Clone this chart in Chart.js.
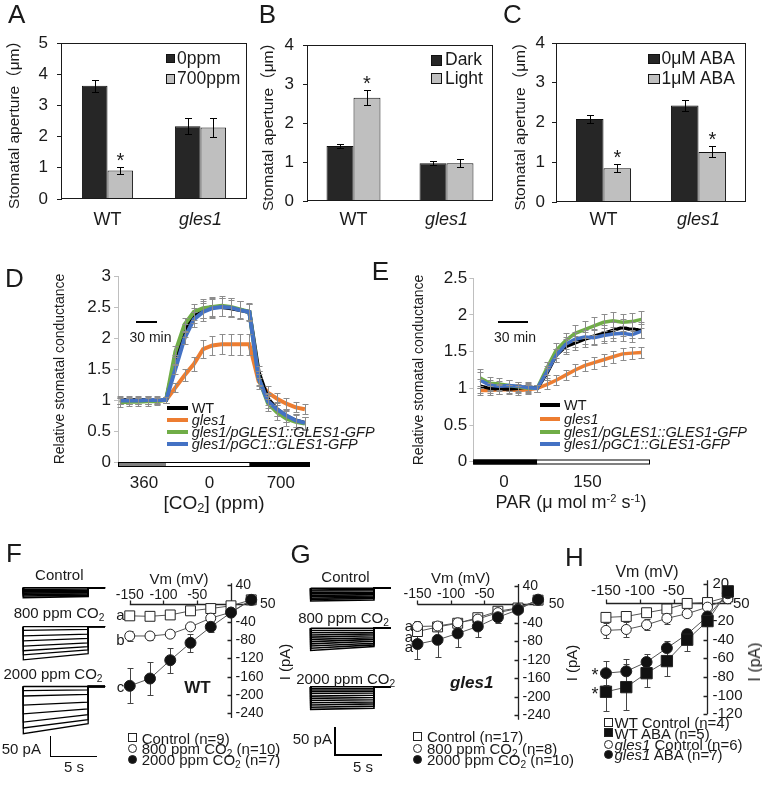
<!DOCTYPE html>
<html><head><meta charset="utf-8">
<script src="https://cdn.jsdelivr.net/npm/chart.js@4.4.1/dist/chart.umd.min.js"></script>
<style>
html,body{margin:0;padding:0;background:#fff}
body{width:762px;height:785px;position:relative;overflow:hidden;font-family:"Liberation Sans",Arial,"Noto Sans CJK SC",sans-serif;color:#1a1a1a}
canvas{position:absolute}
.t{position:absolute;white-space:nowrap;line-height:1}
.t sub{font-size:68%;vertical-align:-0.3em;line-height:0}
.t sup{font-size:62%;vertical-align:0.5em;line-height:0}
.sym{position:absolute;box-sizing:border-box}
</style></head><body>
<script>
const FONT='"Liberation Sans", Arial, "Noto Sans CJK SC", sans-serif';
Chart.defaults.font.family=FONT;
Chart.defaults.color='#1a1a1a';
Chart.defaults.animation=false;
Chart.defaults.responsive=false;
Chart.defaults.maintainAspectRatio=false;
Chart.defaults.devicePixelRatio=1;
Chart.defaults.plugins.legend.display=false;
Chart.defaults.plugins.tooltip.enabled=false;
Chart.defaults.events=[];

// ===================== DATA =====================
// Panel A : CO2
const aCats=['WT','gles1'];
const aNames=['0ppm','700ppm'];
const a0ppm=[3.63,2.33], a0ppmErr=[0.19,0.26];
const a700ppm=[0.91,2.29], a700ppmErr=[0.11,0.30];
const a700Star=[1,0];
// Panel B : light
const bCats=['WT','gles1'];
const bNames=['Dark','Light'];
const bDark=[1.41,0.97], bDarkErr=[0.06,0.05];
const bLight=[2.65,0.97], bLightErr=[0.19,0.11];
const bLightStar=[1,0];
// Panel C : ABA
const cCats=['WT','gles1'];
const cNames=['0μM ABA','1μM ABA'];
const c0=[2.09,2.43], c0Err=[0.09,0.14];
const c1=[0.85,1.26], c1Err=[0.10,0.14];
const c1Star=[1,1];

// Panel D : relative stomatal conductance, CO2 shifts (time points)
const lineNames=['WT','gles1','gles1/pGLES1::GLES1-GFP','gles1/pGC1::GLES1-GFP'];
const dTime=[0,1,2,3,4,5,6,7,8,9,10,11,12,13,14,15,16,17,18,19,20];
const dWT   =[1.00,1.00,1.00,1.00,1.00,1.00,1.65,2.12,2.36,2.46,2.50,2.50,2.48,2.45,2.42,1.45,1.02,0.85,0.74,0.67,0.63];
const dGles1=[0.98,0.98,0.99,0.99,0.99,1.00,1.20,1.40,1.58,1.82,1.88,1.90,1.90,1.90,1.90,1.30,1.12,1.02,0.94,0.88,0.85];
const dPG   =[0.96,0.97,0.97,0.98,0.98,1.00,1.78,2.22,2.42,2.48,2.50,2.52,2.50,2.46,2.42,1.35,0.95,0.80,0.70,0.65,0.62];
const dPC   =[0.99,0.99,0.99,1.00,1.00,1.00,1.50,2.00,2.30,2.42,2.48,2.50,2.49,2.45,2.42,1.35,0.98,0.85,0.75,0.67,0.63];
const dWTErr   =[0.06,0.06,0.06,0.06,0.06,0.05,0.08,0.10,0.12,0.14,0.15,0.15,0.14,0.14,0.13,0.10,0.10,0.10,0.10,0.10,0.10];
const dGles1Err=[0.05,0.05,0.05,0.05,0.05,0.05,0.07,0.10,0.12,0.14,0.15,0.16,0.17,0.17,0.17,0.12,0.10,0.10,0.09,0.08,0.08];
const dPGErr   =[0.07,0.07,0.07,0.07,0.06,0.05,0.09,0.11,0.13,0.15,0.16,0.16,0.15,0.14,0.14,0.12,0.12,0.12,0.12,0.11,0.11];
const dPCErr   =[0.06,0.06,0.06,0.06,0.05,0.05,0.08,0.10,0.12,0.14,0.15,0.15,0.15,0.14,0.13,0.11,0.11,0.11,0.11,0.10,0.10];
const dPhaseEdges=[-0.2,5,14,20.5];
const dTickPos=[2.6,9.7,17.4];
const dTickLabels=['360','0','700'];

// Panel E : light shift
const eTime=[0,1,2,3,4,5,6,7,8,9,10,11,12,13,14,15,16,17];
const eWT   =[1.03,1.00,0.99,0.99,1.00,1.02,1.00,1.20,1.45,1.57,1.62,1.67,1.71,1.75,1.79,1.83,1.80,1.80];
const eGles1=[0.97,0.97,0.98,0.98,0.97,0.98,1.00,1.05,1.11,1.18,1.25,1.31,1.35,1.39,1.43,1.47,1.48,1.49];
const ePG   =[1.14,1.07,1.06,1.04,1.02,1.00,1.00,1.27,1.52,1.65,1.75,1.80,1.85,1.90,1.92,1.90,1.91,1.94];
const ePC   =[1.11,1.04,1.03,1.04,1.03,1.01,1.00,1.22,1.45,1.60,1.67,1.70,1.69,1.72,1.74,1.75,1.73,1.78];
const eWTErr   =[0.10,0.07,0.07,0.06,0.06,0.06,0.05,0.08,0.09,0.10,0.10,0.10,0.10,0.11,0.11,0.11,0.11,0.11];
const eGles1Err=[0.06,0.06,0.06,0.06,0.06,0.06,0.05,0.06,0.07,0.07,0.08,0.08,0.08,0.08,0.08,0.08,0.08,0.08];
const ePGErr   =[0.13,0.09,0.08,0.07,0.07,0.06,0.05,0.09,0.10,0.11,0.11,0.12,0.12,0.12,0.12,0.12,0.12,0.12];
const ePCErr   =[0.11,0.08,0.07,0.07,0.06,0.06,0.05,0.08,0.09,0.10,0.10,0.10,0.10,0.10,0.10,0.10,0.10,0.10];
const ePhaseEdges=[-0.74,6,17.9];
const eTickPos=[2.5,11.3];
const eTickLabels=['0','150'];

// Panels F/G/H : I-V curves
const vm=[-150,-120,-90,-60,-30,0,30];
const fCtrl=[-27,-28,-25,-16,-11,-5,8],        fCtrlErr=[3,3,3,3,2,2,2];
const f800=[-71,-71,-67,-51,-32,-19,8],        f800Err=[11,9,7,5,4,3,2];
const f2000=[-180,-164,-124,-86,-51,-20,8],    f2000Err=[38,37,27,20,11,5,3];
const gCtrl=[-59,-49,-41,-29,-15,-8,9],        gCtrlErr=[10,8,6,6,5,3,2];
const g800=[-48,-47,-40,-32,-18,-9,9],         g800Err=[12,8,6,6,5,3,2];
const g2000=[-86,-77,-63,-48,-28,-12,10],      g2000Err=[32,38,30,22,13,6,3];
const hWTCtrl=[-16,-15,-11,-7,-1,0,6],         hWTCtrlErr=[4,4,3,3,2,2,2];
const hWTABA=[-96,-91,-76,-63,-40,-20,12],     hWTABAErr=[21,25,15,16,12,5,3];
const hGCtrl=[-30,-29,-24,-17,-12,-5,4],       hGCtrlErr=[8,8,6,6,4,3,2];
const hGABA=[-76,-74,-64,-49,-34,-15,10],      hGABAErr=[13,13,9,8,6,4,3];
const ivXTicks=[-150,-100,-50], ivXTickLabels=['-150','-100','-50'];
const fgYTicks=[40,-40,-80,-120,-160,-200,-240], fgYTickLabels=['40','-40','-80','-120','-160','-200','-240'];
const hYTicks=[20,-20,-40,-60,-80,-100,-120], hYTickLabels=['20','-20','-40','-60','-80','-100','-120'];

// current traces (pA relative to holding level): level just after pulse onset, level at pulse end
const fCtrlStart=[0,-4,-7,-10,-13,-17,-20,-24],   fCtrlEnd=[0,-3,-6,-9,-12,-15,-18,-21];
const f800Start=[0,-9,-22,-34,-47,-58,-68,-80],   f800End=[0,-6.5,-18,-28,-39,-48,-56,-65];
const f2000Start=[0,-10,-23,-45,-66,-86,-100,-114], f2000End=[0,-8,-19,-38,-54,-68,-80,-90];
const gCtrlStart=[0,-3,-5,-8,-10,-13,-15,-18,-20,-23],  gCtrlEnd=[0,-2,-4.5,-7,-9,-11.5,-14,-16,-18.5,-21];
const g800Start=[0,-4,-8,-12,-16,-20,-24,-28,-32,-36,-40], g800End=[0,-3.5,-7,-10,-13.5,-17,-20,-23.5,-27,-30,-33];
const g2000Start=[0,-4,-8,-12,-17,-21,-25,-29,-33,-37,-41], g2000End=[0,-4,-8,-11.5,-15.5,-19.5,-23.5,-27.5,-31,-35,-39];
const fPulse=6.9, fTail=8.7, gPulse=6.73, gTail=8.5; // seconds

// ===================== HELPERS =====================
function mkCanvas(L,T,W,H){const c=document.createElement('canvas');c.width=W;c.height=H;Object.assign(c.style,{left:L+'px',top:T+'px',width:W+'px',height:H+'px'});document.body.appendChild(c);return c;}
function axRange(pix0,val0,ppu,p1,p2,inv){const s=inv?-1:1;const a=val0+(p1-pix0)/ppu*s,b=val0+(p2-pix0)/ppu*s;return{min:Math.min(a,b),max:Math.max(a,b)};}
function T(html,x,y,o={}){const d=document.createElement('div');d.className='t';d.innerHTML=html;const s=d.style;s.left=x+'px';s.top=y+'px';s.fontSize=(o.size||15)+'px';if(o.bold)s.fontWeight='bold';if(o.italic)s.fontStyle='italic';const ax=o.align==='l'?'0':(o.align==='r'?'-100%':'-50%');s.transform='translate('+ax+',-50%)'+(o.rot?' rotate('+o.rot+'deg)':'');document.body.appendChild(d);return d;}
function box(x1,y1,x2,y2,st){const d=document.createElement('div');d.className='sym';Object.assign(d.style,{left:x1+'px',top:y1+'px',width:(x2-x1)+'px',height:(y2-y1)+'px'},st||{});document.body.appendChild(d);return d;}

function drawErr(chart){
  const ctx=chart.ctx, ys=chart.scales.y;
  chart.data.datasets.forEach((ds,i)=>{
    if(!ds.errors) return;
    const meta=chart.getDatasetMeta(i);
    ctx.save();ctx.strokeStyle=ds.errColor||'#000';ctx.lineWidth=1;
    meta.data.forEach((el,j)=>{
      const e=ds.errors[j]; if(!e) return;
      const raw=ds.data[j]; const v=(typeof raw==='object')?raw.y:raw;
      const x=Math.round(el.x)+0.5, y1=Math.round(ys.getPixelForValue(v+e))+0.5, y2=Math.round(ys.getPixelForValue(v-e))+0.5, w=ds.capW||3.5;
      ctx.beginPath();ctx.moveTo(x,y1);ctx.lineTo(x,y2);ctx.moveTo(x-w,y1);ctx.lineTo(x+w,y1);ctx.moveTo(x-w,y2);ctx.lineTo(x+w,y2);ctx.stroke();
    });
    ctx.restore();
  });
}
const errAfter={id:'errAfter',afterDatasetsDraw(ch){drawErr(ch);}};
const errBefore={id:'errBefore',beforeDatasetsDraw(ch){drawErr(ch);}};
const starPlugin={id:'stars',afterDatasetsDraw(chart){
  const ctx=chart.ctx, ys=chart.scales.y;
  chart.data.datasets.forEach((ds,i)=>{
    if(!ds.stars) return;
    chart.getDatasetMeta(i).data.forEach((el,j)=>{
      if(!ds.stars[j]) return;
      const top=ys.getPixelForValue(ds.data[j]+(ds.errors?ds.errors[j]:0));
      ctx.save();ctx.fillStyle='#1a1a1a';ctx.font='20px '+FONT;ctx.textAlign='center';ctx.textBaseline='alphabetic';ctx.fillText('*',el.x,top-0.5);ctx.restore();
    });
  });
}};
const framePlugin={id:'frame',afterDraw(chart){const a=chart.chartArea,ctx=chart.ctx;ctx.save();ctx.strokeStyle='#1a1a1a';ctx.lineWidth=1;ctx.strokeRect(Math.round(a.left)+0.5,Math.round(a.top)+0.5,Math.round(a.right-a.left)-1,Math.round(a.bottom-a.top)-1);ctx.restore();}};
const phasePlugin={id:'phase',afterDatasetsDraw(chart,args,o){
  const xs=chart.scales.x, y0=Math.round(chart.scales.y.getPixelForValue(0))+o.dy, ctx=chart.ctx;ctx.save();
  for(let i=0;i<o.edges.length-1;i++){const a=xs.getPixelForValue(o.edges[i]),b=xs.getPixelForValue(o.edges[i+1]);ctx.fillStyle=o.colors[i];ctx.fillRect(a,y0,b-a,5);}
  const a=Math.round(xs.getPixelForValue(o.edges[0])),b=Math.round(xs.getPixelForValue(o.edges[o.edges.length-1]));
  ctx.strokeStyle='#000';ctx.lineWidth=1;ctx.strokeRect(a+0.5,y0+0.5,b-a-1,4);ctx.restore();
}};
const ivAxes={id:'ivaxes',beforeDatasetsDraw(chart,args,o){
  const X=v=>chart.scales.x.getPixelForValue(v), Y=v=>chart.scales.y.getPixelForValue(v), ctx=chart.ctx;
  ctx.save();ctx.strokeStyle='#222';ctx.lineWidth=1.3;ctx.beginPath();
  const y0=Math.round(Y(0))+0.5, x0=Math.round(X(0))+0.5;
  ctx.moveTo(X(o.xFrom),y0);ctx.lineTo(X(o.xTo),y0);
  o.xTicks.forEach(v=>{const x=Math.round(X(v))+0.5;ctx.moveTo(x,y0);ctx.lineTo(x,y0-4);});
  ctx.moveTo(x0,Y(o.yTop));ctx.lineTo(x0,Y(o.yBottom));
  o.yTicks.forEach(v=>{const y=Math.round(Y(v))+0.5;ctx.moveTo(x0,y);ctx.lineTo(x0-4,y);});
  ctx.stroke();
  ctx.fillStyle='#1a1a1a';ctx.font=o.fontSize+'px '+FONT;ctx.textBaseline='middle';ctx.textAlign='center';
  o.xTicks.forEach((v,i)=>ctx.fillText(o.xLabels[i],X(v),y0+o.xLabelDy));
  ctx.fillText(o.endLabel,X(o.endValue)+o.endDx,y0);
  ctx.textAlign='left';
  o.yTicks.forEach((v,i)=>ctx.fillText(o.yLabels[i],x0+o.yLabelDx,Y(v)));
  ctx.restore();
}};

// ===================== BAR PANELS =====================
function barPanel(o){
  const c=mkCanvas(o.L,o.T,o.W,o.H);
  const ds=o.series.map((s,i)=>({label:s.name,data:s.vals,errors:s.err,stars:s.star,backgroundColor:i?'#bfbfbf':'#262626',borderColor:'#111',borderWidth:1,categoryPercentage:o.cp,barPercentage:1}));
  new Chart(c,{type:'bar',data:{labels:o.cats,datasets:ds},plugins:[errAfter,starPlugin,framePlugin],options:{
    layout:{autoPadding:false,padding:{top:o.area.t-o.T,right:o.L+o.W-o.area.r,left:0,bottom:0}},
    scales:{
      x:{grid:{display:false,drawTicks:false},border:{display:false},
         ticks:{font:(ctx)=>({size:18,style:ctx.index===1?'italic':'normal'}),padding:o.xp,maxRotation:0,autoSkip:false,color:'#1a1a1a'},
         afterFit(s){s.height=o.T+o.H-o.area.b;}},
      y:{min:0,max:o.yMax,ticks:{stepSize:1,font:{size:17},padding:o.yp,color:'#1a1a1a'},
         grid:{drawOnChartArea:false,tickLength:4,color:'#1a1a1a'},border:{color:'#1a1a1a'},
         title:{display:true,text:'Stomatal aperture（μm）',font:{size:15.5},padding:{top:o.tpad,bottom:0},color:'#1a1a1a'},
         afterFit(s){s.width=o.area.l-o.L;}}
    }}});
}
barPanel({L:0,T:0,W:254,H:235,area:{l:61,r:247,t:43,b:199},yMax:5,cp:0.55,xp:10,yp:9,tpad:5.7,cats:aCats,
  series:[{name:aNames[0],vals:a0ppm,err:a0ppmErr},{name:aNames[1],vals:a700ppm,err:a700ppmErr,star:a700Star}]});
barPanel({L:254,T:0,W:254,H:235,area:{l:307,r:493,t:45,b:201},yMax:4,cp:0.58,xp:8,yp:9,tpad:5.7,cats:bCats,
  series:[{name:bNames[0],vals:bDark,err:bDarkErr},{name:bNames[1],vals:bLight,err:bLightErr,star:bLightStar}]});
barPanel({L:508,T:0,W:254,H:235,area:{l:556,r:746,t:43,b:202},yMax:4,cp:0.58,xp:7.5,yp:7,tpad:3.7,cats:cCats,
  series:[{name:cNames[0],vals:c0,err:c0Err},{name:cNames[1],vals:c1,err:c1Err,star:c1Star}]});

// ===================== LINE PANELS =====================
function linePanel(o){
  const c=mkCanvas(o.L,o.T,o.W,o.H);
  const colors=['#000000','#ED7D31','#70AD47','#4472C4'];
  const orders=[2,3,1,0];
  const ds=o.series.map((s,i)=>({label:lineNames[i],data:o.idx.map((t,j)=>({x:t,y:s[j]})),errors:o.errs[i],errColor:'#8c8c8c',capW:3,
    borderColor:colors[i],borderWidth:o.lw,pointRadius:0,tension:0,order:orders[i],clip:false}));
  new Chart(c,{type:'line',data:{datasets:ds},plugins:[errAfter,phasePlugin],options:{
    layout:{autoPadding:false,padding:{top:o.area.t-o.T,right:o.L+o.W-o.area.r,left:0,bottom:0}},
    scales:{
      x:{type:'linear',min:o.xMin,max:o.xMax,grid:{display:false,drawTicks:false},border:{display:false},
         afterBuildTicks(s){s.ticks=o.tickPos.map(v=>({value:v}));},
         ticks:{callback:(v,i)=>o.tickLabels[i],font:{size:17},padding:o.xp,maxRotation:0,autoSkip:false,color:'#1a1a1a'},
         afterFit(s){s.height=o.T+o.H-o.area.b;}},
      y:{min:0,max:o.yMax,ticks:{stepSize:0.5,callback:v=>String(v),font:{size:17},padding:o.yp,color:'#1a1a1a'},
         grid:{drawOnChartArea:false,tickLength:4,color:'#bfbfbf'},border:{color:'#bfbfbf'},
         title:{display:true,text:'Relative stomatal conductance',font:{size:14},padding:{top:o.tpad,bottom:0},color:'#1a1a1a'},
         afterFit(s){s.width=o.area.l-o.L;}}
    },
    plugins:{phase:{edges:o.edges,colors:o.phaseColors,dy:o.phaseDy}}
  }});
}
linePanel({L:0,T:230,W:381,H:290,area:{l:118,r:309.5,t:276,b:462},xMin:-0.2,xMax:20.5,yMax:3,lw:4,xp:10.8,yp:3,tpad:51.6,
  idx:dTime,series:[dWT,dGles1,dPG,dPC],errs:[dWTErr,dGles1Err,dPGErr,dPCErr],
  tickPos:dTickPos,tickLabels:dTickLabels,edges:dPhaseEdges,phaseColors:['#808080','#ffffff','#000000'],phaseDy:0});
linePanel({L:381,T:230,W:381,H:290,area:{l:473.3,r:650,t:278.3,b:461.7},xMin:-0.74,xMax:17.9,yMax:2.5,lw:3.5,xp:10,yp:2,tpad:29.6,
  idx:eTime,series:[eWT,eGles1,ePG,ePC],errs:[eWTErr,eGles1Err,ePGErr,ePCErr],
  tickPos:eTickPos,tickLabels:eTickLabels,edges:ePhaseEdges,phaseColors:['#000000','#ffffff'],phaseDy:-2.5});

// ===================== TRACES =====================
function tracePanel(o){
  const c=mkCanvas(o.L,o.T,o.W,o.H);
  const xr=axRange(o.x0,0,o.pxs,o.L,o.L+o.W,false), yr=axRange(o.y0,0,o.pxpa,o.T,o.T+o.H,true);
  const ds=o.start.map((s,i)=>({data:[{x:0,y:0},{x:0,y:s},{x:o.pulse,y:o.end[i]},{x:o.pulse,y:0},{x:o.tail,y:0}],
    borderColor:'#000',borderWidth:o.lw,pointRadius:0,tension:0,clip:false}));
  new Chart(c,{type:'line',data:{datasets:ds},options:{layout:{autoPadding:false,padding:0},
    scales:{x:{type:'linear',display:false,min:xr.min,max:xr.max},y:{type:'linear',display:false,min:yr.min,max:yr.max}}}});
}
tracePanel({L:15,T:578,W:100,H:30,x0:23.3,pxs:9.4,y0:587.7,pxpa:0.414,pulse:fPulse,tail:fTail,start:fCtrlStart,end:fCtrlEnd,lw:1.6});
tracePanel({L:15,T:618,W:100,H:50,x0:23.3,pxs:9.4,y0:626.7,pxpa:0.414,pulse:fPulse,tail:fTail,start:f800Start,end:f800End,lw:1.3});
tracePanel({L:15,T:678,W:100,H:62,x0:23.3,pxs:9.4,y0:686.5,pxpa:0.414,pulse:fPulse,tail:fTail,start:f2000Start,end:f2000End,lw:1.3});
tracePanel({L:303,T:580,W:95,H:30,x0:310.7,pxs:9.4,y0:588.3,pxpa:0.554,pulse:gPulse,tail:gTail,start:gCtrlStart,end:gCtrlEnd,lw:1.6});
tracePanel({L:303,T:620,W:95,H:35,x0:310.7,pxs:9.4,y0:628.3,pxpa:0.554,pulse:gPulse,tail:gTail,start:g800Start,end:g800End,lw:1.6});
tracePanel({L:303,T:679,W:95,H:38,x0:310.7,pxs:9.4,y0:686.7,pxpa:0.554,pulse:gPulse,tail:gTail,start:g2000Start,end:g2000End,lw:1.6});

// ===================== I-V PANELS =====================
const stOpenSq={shape:'rect',r:7,fill:'#ffffff'}, stFillSq={shape:'rect',r:8,fill:'#111111'};
const stOpenC={shape:'circle',r:5,fill:'#ffffff'}, stFillC={shape:'circle',r:5.5,fill:'#111111'};
function ivDs(vals,errs,st,order){return{data:vm.map((v,i)=>({x:v,y:vals[i]})),errors:errs,errColor:'#444',capW:3,order,
  borderColor:'#555',borderWidth:1,pointStyle:st.shape,pointRadius:st.r,pointBackgroundColor:st.fill,pointBorderColor:'#222',pointBorderWidth:1,tension:0,clip:false};}
function ivPanel(o){
  const c=mkCanvas(o.L,o.T,o.W,o.H);
  const xr=axRange(o.x0,0,o.pxmv,o.L,o.L+o.W,false), yr=axRange(o.y0,0,o.pxpa,o.T,o.T+o.H,true);
  new Chart(c,{type:'line',data:{datasets:o.ds},plugins:[ivAxes,errBefore],options:{layout:{autoPadding:false,padding:0},
    scales:{x:{type:'linear',display:false,min:xr.min,max:xr.max},y:{type:'linear',display:false,min:yr.min,max:yr.max}},
    plugins:{ivaxes:o.axes}}});
}
ivPanel({L:100,T:565,W:190,H:165,x0:231,pxmv:0.675,y0:603.5,pxpa:0.4575,
  ds:[ivDs(fCtrl,fCtrlErr,stOpenSq,2),ivDs(f800,f800Err,stOpenC,1),ivDs(f2000,f2000Err,stFillC,0)],
  axes:{xFrom:-150,xTo:35,xTicks:ivXTicks,xLabels:ivXTickLabels,xLabelDy:-9,yTop:44,yBottom:-250,yTicks:fgYTicks,yLabels:fgYTickLabels,yLabelDx:4,fontSize:14,endLabel:'50',endValue:50,endDx:3}});
ivPanel({L:395,T:565,W:190,H:165,x0:518,pxmv:0.67,y0:604.3,pxpa:0.462,
  ds:[ivDs(gCtrl,gCtrlErr,stOpenSq,2),ivDs(g800,g800Err,stOpenC,1),ivDs(g2000,g2000Err,stFillC,0)],
  axes:{xFrom:-150,xTo:35,xTicks:ivXTicks,xLabels:ivXTickLabels,xLabelDy:-10,yTop:44,yBottom:-250,yTicks:fgYTicks,yLabels:fgYTickLabels,yLabelDx:4,fontSize:14,endLabel:'50',endValue:50,endDx:5}});
ivPanel({L:585,T:560,W:177,H:170,x0:707.5,pxmv:0.677,y0:602.5,pxpa:0.93,
  ds:[ivDs(hWTCtrl,hWTCtrlErr,stOpenSq,3),ivDs(hWTABA,hWTABAErr,stFillSq,0),ivDs(hGCtrl,hGCtrlErr,stOpenC,2),ivDs(hGABA,hGABAErr,stFillC,1)],
  axes:{xFrom:-150,xTo:35,xTicks:ivXTicks,xLabels:ivXTickLabels,xLabelDy:-13,yTop:24,yBottom:-120,yTicks:hYTicks,yLabels:hYTickLabels,yLabelDx:5,fontSize:15,endLabel:'50',endValue:50,endDx:0}});

// ===================== TEXT / LEGENDS =====================
[['A',16.7,14.2],['B',267.3,14.2],['C',512.5,14.2],['D',14.5,278.3],['E',380.5,271],['F',14,552.5],['G',300.7,554],['H',574.5,557]]
  .forEach(p=>T(p[0],p[1],p[2],{size:26}));
// bar legends
function sq(x1,y1,x2,y2,dark){box(x1,y1,x2,y2,{background:dark?'#262626':'#bfbfbf',border:'1px solid #111'});}
sq(165.7,53.5,175.2,63.3,1);T(aNames[0],177,58.5,{size:17.5,align:'l'});
sq(165.7,74,175.2,84,0);T(aNames[1],177,79,{size:17.5,align:'l'});
sq(431.3,55,442.3,65.7,1);T(bNames[0],445,60.3,{size:17.5,align:'l'});
sq(431.3,73.3,442.3,84,0);T(bNames[1],445,78.7,{size:17.5,align:'l'});
sq(648,53.5,659.7,64,1);T(cNames[0],661.5,58.7,{size:17.5,align:'l'});
sq(648,74,659.7,84,0);T(cNames[1],661.5,79,{size:17.5,align:'l'});
// line legends
const legColors=['#000000','#ED7D31','#70AD47','#4472C4'];
function lineLegend(x1,x2,tx,rows){rows.forEach((y,i)=>{box(x1,y-2,x2,y+2,{background:legColors[i]});T(lineNames[i],tx,y,{size:14.5,align:'l',italic:i>0});});}
lineLegend(166.7,188.3,191.7,[408.3,420,432.3,444.3]);
lineLegend(540,560,564,[405,419,432.3,444]);
// 30 min bars
box(136,320.7,156.7,322.7,{background:'#000'});T('30 min',150.5,337.3,{size:14});
box(498.3,320.7,528.3,322.7,{background:'#000'});T('30 min',515,337.3,{size:14});
T('[CO<sub>2</sub>] (ppm)',214,502,{size:19});
T('PAR (μ mol m<sup>-2</sup> s<sup>-1</sup>)',571,502,{size:18});
// F
T('Control',59.3,574);T('800 ppm CO<sub>2</sub>',59,612.3);T('2000 ppm CO<sub>2</sub>',53,672.7);
box(49.5,736,50.8,757,{background:'#000'});box(49.5,755.7,96.7,757,{background:'#000'});
T('50 pA',21.3,748.3);T('5 s',74,766);
T('Vm (mV)',179,578);T('a',120.5,614.3);T('b',120.5,639.3);T('c',120.5,686);
T('WT',197.5,686.7,{size:17,bold:true});T('I (pA)',284,662,{rot:-90});
// G
T('Control',345.5,576);T('800 ppm CO<sub>2</sub>',343.5,616.7);T('2000 ppm CO<sub>2</sub>',345.7,678.3);
box(334.4,727.3,335.7,755.7,{background:'#000'});box(334.4,754.4,382.3,755.7,{background:'#000'});
T('50 pA',312.3,738.3);T('5 s',363,766);
T('Vm (mV)',460.7,577);T('a',409,625);T('a',409,635.5);T('a',409,646);
T('gles1',471.7,681.7,{size:17,bold:true,italic:true});T('I (pA)',571,663,{rot:-90});
// H
T('Vm (mV)',647,571.5,{size:16});T('*',595,675,{size:18});T('*',595,694,{size:18});T('I (pA)',754.7,662,{size:16,rot:-90});
// IV legends
function sym(cx,cy,kind,s){const h=s/2;const st={border:'1px solid #222',background:kind.indexOf('f')>=0?'#111':'#fff'};if(kind.indexOf('c')>=0)st.borderRadius='50%';box(cx-h,cy-h,cx+h,cy+h,st);}
[[ 'os','Control (n=9)'],['oc','800 ppm CO<sub>2</sub> (n=10)'],['fc','2000 ppm CO<sub>2</sub> (n=7)']].forEach((r,i)=>{const y=[737.5,748.3,759.3][i];sym(132.7,y,r[0],9);T(r[1],141.7,y,{align:'l'});});
[[ 'os','Control (n=17)'],['oc','800 ppm CO<sub>2</sub> (n=8)'],['fc','2000 ppm CO<sub>2</sub> (n=10)']].forEach((r,i)=>{const y=[736,748.3,759.3][i];sym(417.3,y,r[0],9);T(r[1],427,y,{align:'l'});});
[[ 'os','WT Control (n=4)'],['fs','WT ABA (n=5)'],['oc','<i>gles1</i> Control (n=6)'],['fc','<i>gles1</i> ABA (n=7)']].forEach((r,i)=>{const y=[722.3,732.7,744,754.3][i];sym(608,y,r[0],9);T(r[1],614.5,y,{align:'l'});});
</script>
</body></html>
